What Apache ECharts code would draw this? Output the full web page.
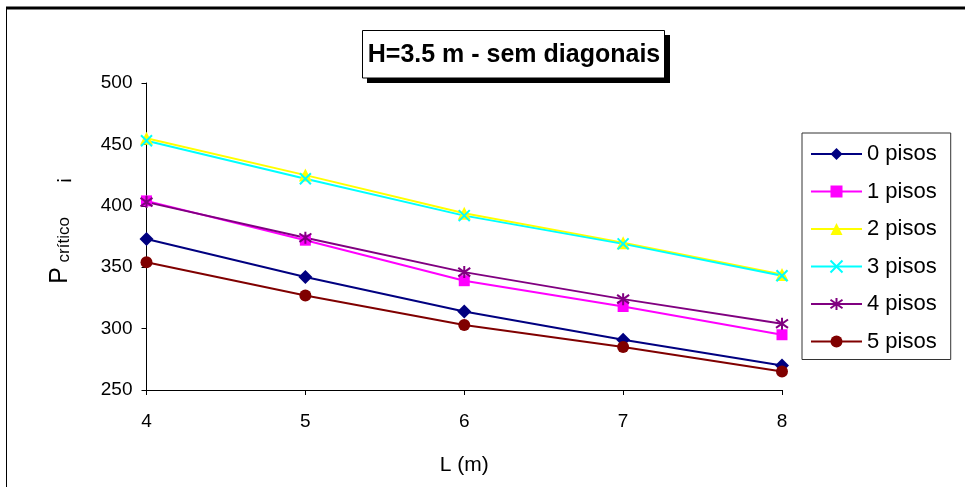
<!DOCTYPE html>
<html>
<head>
<meta charset="utf-8">
<script src="https://cdn.jsdelivr.net/npm/echarts@6/dist/echarts.min.js"></script>
<style>
  html, body { margin: 0; padding: 0; background: #fff; }
  #chart { width: 965px; height: 487px; }
</style>
</head>
<body>
<div id="chart"></div>
<script>
// Span L (m) on the horizontal axis
const spans = [4, 5, 6, 7, 8];

// Critical load for each number of floors
const seriesNames = ['0 pisos', '1 pisos', '2 pisos', '3 pisos', '4 pisos', '5 pisos'];
const pisos0 = [373, 342, 314, 291, 270];
const pisos1 = [404, 372, 339, 318, 295];
const pisos2 = [455, 425, 394, 370, 344];
const pisos3 = [453, 422, 392, 369, 343];
const pisos4 = [403, 374, 346, 324, 304];
const pisos5 = [354, 327, 303, 285, 265];

const yTicks = [250, 300, 350, 400, 450, 500];
const xTicks = [4, 5, 6, 7, 8];

const titleText = 'H=3.5 m - sem diagonais';
const FONT = '"Liberation Sans", Arial, Helvetica, sans-serif';

const crossPath = 'path://M0,0L10,10M10,0L0,10';
const starPath = 'path://M5,0L5,10M0,1.5L10,8.5M10,1.5L0,8.5';

const styles = [
  { color: '#000080', symbol: 'diamond', size: 14 },
  { color: '#FF00FF', symbol: 'rect', size: 11 },
  { color: '#FFFF00', symbol: 'triangle', size: 13 },
  { color: '#00FFFF', symbol: crossPath, size: 11, stroke: true },
  { color: '#800080', symbol: starPath, size: 12, stroke: true },
  { color: '#800000', symbol: 'circle', size: 12 }
];
const values = [pisos0, pisos1, pisos2, pisos3, pisos4, pisos5];

const series = seriesNames.map((name, i) => {
  const s = styles[i];
  return {
    name: name,
    type: 'line',
    data: spans.map((x, j) => [x, values[i][j]]),
    symbol: s.symbol,
    symbolSize: s.size,
    showAllSymbol: true,
    lineStyle: { color: s.color, width: 2 },
    itemStyle: s.stroke
      ? { color: s.color, borderColor: s.color, borderWidth: 2 }
      : { color: s.color, borderWidth: 0 },
    emphasis: { disabled: true },
    animation: false
  };
});

const chart = echarts.init(document.getElementById('chart'), null, { renderer: 'canvas' });

chart.setOption({
  backgroundColor: '#fff',
  animation: false,
  textStyle: { fontFamily: FONT },
  grid: { left: 146.5, right: 183, top: 83, bottom: 97, containLabel: false },
  xAxis: {
    type: 'value',
    min: xTicks[0],
    max: xTicks[xTicks.length - 1],
    interval: 1,
    name: 'L (m)',
    nameLocation: 'middle',
    nameGap: 65,
    nameTextStyle: { fontFamily: FONT, fontSize: 21, color: '#000' },
    axisLine: { show: true, onZero: false, lineStyle: { color: '#000', width: 1 } },
    axisTick: { show: true, inside: false, length: 5, lineStyle: { color: '#000' } },
    axisLabel: { fontFamily: FONT, fontSize: 19, color: '#000', margin: 22 },
    splitLine: { show: false }
  },
  yAxis: {
    type: 'value',
    min: yTicks[0],
    max: yTicks[yTicks.length - 1],
    interval: 50,
    name: '{p|P}{s| crítico}{g|      ¡}',
    nameLocation: 'middle',
    nameRotate: 90,
    nameGap: 74,
    nameTextStyle: {
      color: '#000',
      padding: [0, 0, 0, 12],
      rich: {
        p: { fontFamily: FONT, fontSize: 25, color: '#000', verticalAlign: 'bottom', lineHeight: 26 },
        s: { fontFamily: FONT, fontSize: 17, color: '#000', verticalAlign: 'bottom', lineHeight: 22 },
        g: { fontFamily: FONT, fontSize: 20, color: '#000', verticalAlign: 'bottom', lineHeight: 24 }
      }
    },
    axisLine: { show: true, onZero: false, lineStyle: { color: '#000', width: 1 } },
    axisTick: { show: true, inside: false, length: 5, lineStyle: { color: '#000' } },
    axisLabel: { fontFamily: FONT, fontSize: 19, color: '#000', margin: 14 },
    splitLine: { show: false }
  },
  legend: {
    orient: 'vertical',
    left: 802,
    top: 133,
    data: seriesNames,
    itemWidth: 51,
    itemHeight: 15,
    itemGap: 15.5,
    padding: [10, 14, 7, 8],
    borderColor: '#333',
    borderWidth: 1,
    backgroundColor: '#fff',
    selectedMode: false,
    textStyle: { fontFamily: FONT, fontSize: 22, color: '#000' }
  },
  graphic: [
    // outer frame edges
    { type: 'line', shape: { x1: 6, y1: 8, x2: 965, y2: 8 }, style: { stroke: '#000', lineWidth: 3 }, silent: true },
    { type: 'line', shape: { x1: 6.5, y1: 8, x2: 6.5, y2: 487 }, style: { stroke: '#000', lineWidth: 1 }, silent: true },
    // title box with drop shadow
    { type: 'rect', shape: { x: 367, y: 35, width: 303, height: 48 }, style: { fill: '#000' }, silent: true },
    { type: 'rect', shape: { x: 362.5, y: 30.5, width: 302, height: 47.5 }, style: { fill: '#fff', stroke: '#000', lineWidth: 1 }, silent: true },
    {
      type: 'text', x: 514, y: 55, silent: true,
      style: { text: titleText, fill: '#000', font: 'bold 25px ' + FONT, align: 'center', verticalAlign: 'middle' }
    }
  ],
  series: series
});
</script>
</body>
</html>
